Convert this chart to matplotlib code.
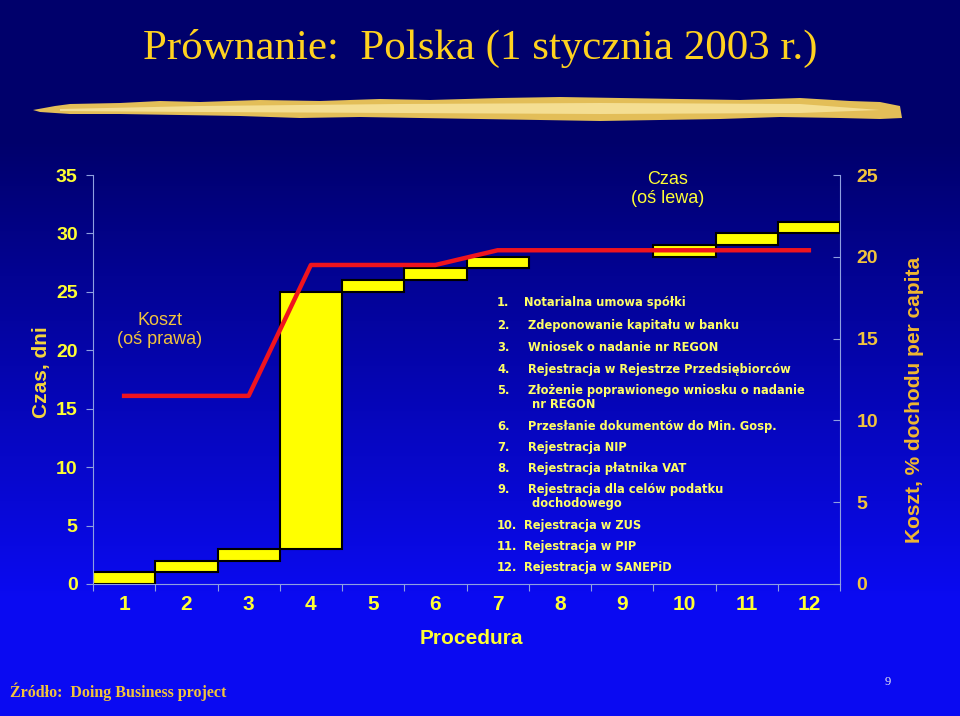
"""Prównanie: Polska (1 stycznia 2003 r.) - czas i koszt rejestracji firmy."""

import numpy as np
import matplotlib

matplotlib.use("Agg")
import matplotlib.pyplot as plt

# ----------------------------------------------------------------------
# Data
# ----------------------------------------------------------------------
procedures = list(range(1, 13))
days = [1, 1, 1, 22, 1, 1, 1, 0, 0, 1, 1, 1]          # duration of each step
cost_pct = [11.5, 11.5, 11.5, 19.5, 19.5, 19.5,
            20.4, 20.4, 20.4, 20.4, 20.4, 20.4]        # cumulative cost
left_ticks = [0, 5, 10, 15, 20, 25, 30, 35]
right_ticks = [0, 5, 10, 15, 20, 25]
step_numbers = ["1.", "2.", "3.", "4.", "5.", "6.", "7.", "8.", "9.",
                "10.", "11.", "12."]
step_labels = [
    "Notarialna umowa spółki",
    " Zdeponowanie kapitału w banku",
    " Wniosek o nadanie nr REGON",
    " Rejestracja w Rejestrze Przedsiębiorców",
    " Złożenie poprawionego wniosku o nadanie\n  nr REGON",
    " Przesłanie dokumentów do Min. Gosp.",
    " Rejestracja NIP",
    " Rejestracja płatnika VAT",
    " Rejestracja dla celów podatku\n  dochodowego",
    "Rejestracja w ZUS",
    "Rejestracja w PIP",
    "Rejestracja w SANEPiD",
]

W, H = 960, 716
YELLOW = "#FFFF33"
GOLD = "#F2C43C"
PALE = "#FFFF66"


def px(x, y):
    """Pixel position (from top-left) -> figure fraction."""
    return x / W, 1 - y / H


fig = plt.figure(figsize=(W / 100, H / 100), dpi=100)

# ----------------------------------------------------------------------
# Background: dark navy on top fading to bright blue
# ----------------------------------------------------------------------
bg = fig.add_axes([0, 0, 1, 1], zorder=-10)
rows = np.arange(H)
t = np.clip((rows - 140) / (600 - 140), 0, 1)
top = np.array([0.0, 0.0, 0.42])
bot = np.array([0.04, 0.04, 0.95])
col = top + (bot - top) * t[:, None]
img = np.repeat(col[:, None, :], 4, axis=1)
bg.imshow(img, extent=[0, W, H, 0], aspect="auto", interpolation="bilinear")
bg.set_xlim(0, W)
bg.set_ylim(H, 0)
bg.axis("off")

# brush stroke under the title (rough edges)
stroke_x = [33, 55, 70, 120, 160, 200, 260, 320, 380, 430, 500, 560, 620,
            680, 740, 800, 850, 880, 900,
            902, 880, 840, 780, 720, 660, 600, 540, 480, 420, 360, 300,
            240, 180, 120, 70, 40]
stroke_y = [110, 106, 104, 103, 101, 102, 100, 101, 99, 100, 98, 97, 98,
            99, 100, 98, 101, 102, 106,
            118, 119, 118, 117, 119, 120, 121, 120, 119, 118, 117, 118,
            116, 115, 114, 114, 112]
bg.fill(stroke_x, stroke_y, color="#E3BE58", lw=0)
inner_x = [60, 200, 400, 600, 800, 880, 800, 600, 400, 200, 60]
inner_y = [109, 106, 104, 103, 104, 110, 113, 114, 113, 112, 111]
bg.fill(inner_x, inner_y, color="#F4DE92", lw=0)

# ----------------------------------------------------------------------
# Main chart
# ----------------------------------------------------------------------
x0, y0 = px(93, 584)
x1, y1 = px(840, 175)
ax = fig.add_axes([x0, y0, x1 - x0, y1 - y0])
ax.set_facecolor("none")

days_arr = np.array(days)
tops = np.cumsum(days_arr)
bottoms = tops - days_arr
mask = days_arr > 0
ax.bar(np.array(procedures)[mask], days_arr[mask], bottom=bottoms[mask],
       width=1.0, color="#FFFF00", edgecolor="black", linewidth=1.5, zorder=2)

ax.set_xlim(0.5, 12.5)
ax.set_ylim(0, 35)
ax.set_yticks(left_ticks)
ax.set_xticks(np.arange(0.5, 13, 1))
ax.set_xticks(procedures, minor=True)
ax.tick_params(axis="x", which="major", length=5, color="#8FA0E0",
               labelbottom=False)
ax.tick_params(axis="x", which="minor", length=0, pad=8,
               labelsize=15, labelcolor=YELLOW)
ax.set_xticklabels([str(p) for p in procedures], minor=True,
                   family="Liberation Sans", fontweight="bold")
ax.tick_params(axis="y", length=5, color="#8FA0E0", pad=6,
               labelsize=14, labelcolor=YELLOW)
for lab in ax.get_yticklabels():
    lab.set_family("Liberation Sans")
    lab.set_fontweight("bold")
for side in ("top", "right"):
    ax.spines[side].set_visible(False)
for side in ("left", "bottom"):
    ax.spines[side].set_color("#8FA0E0")
    ax.spines[side].set_linewidth(0.8)

ax2 = ax.twinx()
ax2.plot(procedures, cost_pct, color="#F0141E", linewidth=3.2,
         solid_joinstyle="round", zorder=3)
ax2.set_ylim(0, 25)
ax2.set_yticks(right_ticks)
ax2.tick_params(axis="y", direction="in", length=5, color="#8FA0E0",
                pad=12, labelsize=14, labelcolor=GOLD)
for lab in ax2.get_yticklabels():
    lab.set_family("Liberation Sans")
    lab.set_fontweight("bold")
for side in ("top", "left", "bottom"):
    ax2.spines[side].set_visible(False)
ax2.spines["right"].set_color("#8FA0E0")
ax2.spines["right"].set_linewidth(0.8)

# ----------------------------------------------------------------------
# Texts
# ----------------------------------------------------------------------
fig.text(*px(480, 48), "Prównanie:  Polska (1 stycznia 2003 r.)",
         family="Liberation Serif", fontsize=31, color="#FFD21F",
         ha="center", va="center")

fig.text(*px(42, 372), "Czas, dni", rotation=90, family="Liberation Sans",
         fontweight="bold", fontsize=15, color="#F5D63C", ha="center", va="center")
fig.text(*px(914, 400), "Koszt, % dochodu per capita", rotation=90,
         family="Liberation Sans", fontweight="bold", fontsize=15,
         color="#F0B830", ha="center", va="center")

fig.text(*px(160, 330), "Koszt\n(oś prawa)", family="Liberation Sans",
         fontsize=13, color=GOLD, ha="center", va="center", linespacing=1.2)
fig.text(*px(668, 189), "Czas\n(oś lewa)", family="Liberation Sans",
         fontsize=13, color=YELLOW, ha="center", va="center", linespacing=1.2)

fig.text(*px(471, 638), "Procedura", family="Liberation Sans",
         fontweight="bold", fontsize=15, color=YELLOW, ha="center", va="center")

# numbered list of procedures
line_y = [303, 326, 348, 370, 391, 427, 448, 469, 490, 526, 547, 568]
for num, label, yy in zip(step_numbers, step_labels, line_y):
    fig.text(*px(497, yy - 7), num, family="DejaVu Sans", fontweight="bold",
             fontsize=8.3, color=PALE, ha="left", va="top")
    fig.text(*px(524, yy - 7), label, family="DejaVu Sans", fontweight="bold",
             fontsize=8.3, color=PALE, ha="left", va="top", linespacing=1.15)

fig.text(*px(10, 692), "Źródło:  Doing Business project", family="Liberation Serif",
         fontweight="bold", fontsize=11.5, color=GOLD, ha="left", va="center")
fig.text(*px(888, 682), "9", family="Liberation Serif", fontsize=9,
         color="#E8E8F0", ha="center", va="center")

fig.savefig("out.png", dpi=100)
plt.close(fig)
